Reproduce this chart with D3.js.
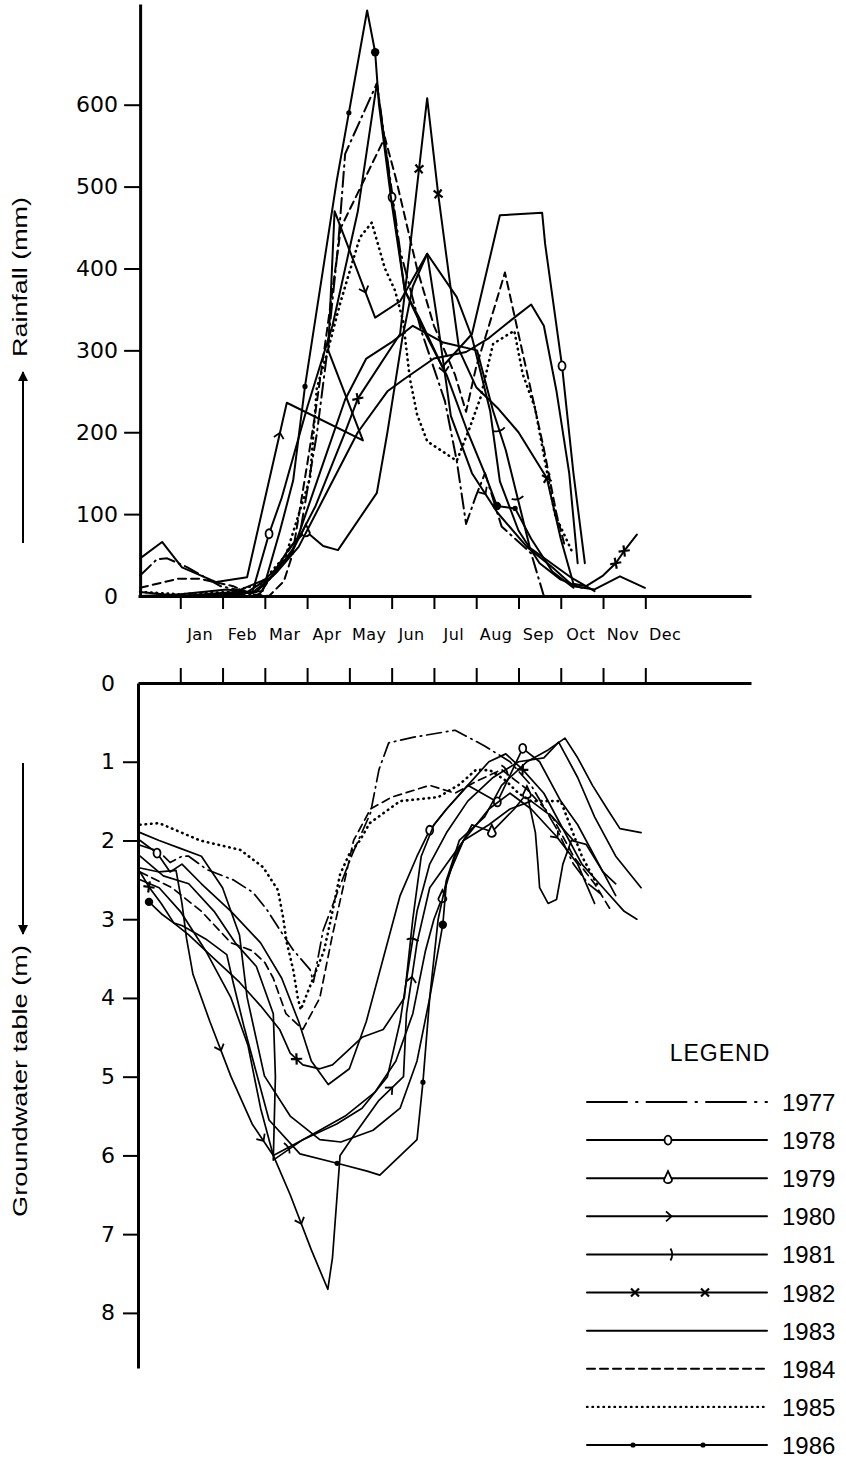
<!DOCTYPE html>
<html>
<head>
<meta charset="utf-8">
<script src="https://cdn.jsdelivr.net/npm/d3@7"></script>
<style>
  body { margin: 0; background: #fff; }
  svg { display: block; }
</style>
</head>
<body>
<div class="chartContainer"></div>
<script>
// categories / ticks
const months = ['Jan','Feb','Mar','Apr','May','Jun','Jul','Aug','Sep','Oct','Nov','Dec'];
const years = ['1977','1978','1979','1980','1981','1982','1983','1984','1985','1986'];
const rainTicks = [0,100,200,300,400,500,600];
const depthTicks = [0,1,2,3,4,5,6,7,8];

// rainfall (mm), [month position, value]
const rain1977 = [[0.05,25],[0.45,45],[0.69,46],[1.17,35],[1.95,12],[2.87,2],[3.83,76],[4.23,198],[4.47,296],[4.73,426],[4.9,540],[5.65,626],[6.2,422],[6.7,324],[7.26,238],[7.54,165],[7.76,88],[8.0,123],[8.21,150],[8.6,85],[9.3,52],[9.6,0]];
const rain1978 = [[0.05,0],[1.0,2],[2.1,8],[2.7,4],[3.1,76],[3.4,120],[4.0,230],[4.6,330],[5.2,470],[5.65,626],[6.01,487],[6.31,373],[6.65,340],[7.2,280],[7.9,320],[8.56,465],[9.56,468],[9.63,430],[10.03,281],[10.3,150],[10.57,40]];
const rain1979 = [[0.05,0],[1.5,0],[2.6,0],[3.1,20],[3.6,60],[3.97,79],[4.38,61],[4.73,56],[5.65,126],[5.9,200],[6.25,314],[6.5,378],[6.84,418],[7.54,365],[7.9,316],[8.33,226],[8.56,140],[9.0,80],[9.5,40],[10.0,20],[10.5,10]];
const rain1980 = [[0.05,46],[0.57,66],[1.04,35],[1.85,17],[2.58,23],[3.52,236],[5.32,190],[4.5,300],[4.65,470],[5.61,340],[6.2,360],[6.84,418],[7.1,330],[7.4,220],[7.9,150],[8.5,102],[9.2,60],[9.8,35],[10.3,12],[10.8,8],[11.4,24],[11.99,10]];
const rain1981 = [[0.05,0],[1.2,0],[2.5,2],[3.2,25],[3.7,60],[4.3,150],[4.9,240],[5.4,290],[6.0,310],[6.5,330],[7.2,310],[8.02,300],[8.4,226],[8.7,178],[9.27,59],[10.26,22],[10.8,6]];
const rain1982 = [[0.05,0],[1.0,0],[2.3,5],[3.0,20],[3.6,50],[4.2,110],[4.9,200],[5.2,241],[6.2,320],[6.84,608],[7.1,491],[7.38,382],[7.6,300],[8.0,255],[8.5,230],[9.0,200],[9.67,144],[10.0,70],[10.3,15],[10.6,12],[11.0,25],[11.3,40],[11.5,55],[11.8,75]];
const rain1983 = [[0.05,5],[1.0,0],[2.0,0],[2.8,5],[3.3,30],[3.8,60],[4.5,130],[5.2,200],[5.9,250],[6.3,265],[7.0,290],[7.76,298],[8.3,315],[8.9,340],[9.3,356],[9.6,330],[9.9,250],[10.2,150],[10.4,40]];
const rain1984 = [[0.05,10],[0.95,21],[1.47,21],[2.25,12],[2.7,2],[3.1,0],[3.45,18],[3.65,50],[4.0,160],[4.19,222],[4.47,324],[4.8,450],[5.84,560],[6.1,510],[6.6,400],[7.0,330],[7.5,270],[7.76,225],[8.0,280],[8.3,330],[8.68,395],[9.0,320],[9.3,250],[9.6,180],[9.9,100],[10.1,60]];
const rain1985 = [[0.05,5],[1.0,2],[2.2,5],[2.9,15],[3.5,50],[4.07,144],[4.23,254],[4.47,296],[4.78,357],[4.94,385],[5.25,438],[5.53,456],[5.84,400],[6.08,373],[6.27,336],[6.43,266],[6.6,222],[6.84,189],[7.54,165],[7.85,206],[8.1,242],[8.4,308],[8.9,324],[9.1,271],[9.39,230],[9.86,100],[10.26,55]];
const rain1986 = [[0.05,0],[1.0,0],[2.2,3],[2.95,6],[3.36,80],[3.67,141],[3.95,256],[4.7,507],[5.42,715],[5.61,664],[5.7,600],[6.0,480],[6.31,373],[6.8,320],[7.3,270],[7.8,200],[8.2,150],[8.49,110],[8.92,107],[9.3,70],[9.8,30],[10.3,10]];

// groundwater table depth (m), [month position, value]
const gw1977 = [[0.05,2.06],[0.5,2.14],[0.76,2.28],[1.04,2.2],[1.2,2.2],[1.63,2.37],[2.25,2.5],[2.72,2.66],[3.05,2.88],[3.36,3.14],[3.67,3.39],[4.07,3.64],[4.15,3.8],[4.38,3.14],[4.71,2.67],[5.08,2.16],[5.5,1.65],[5.7,1.1],[5.93,0.76],[6.5,0.69],[7.5,0.6],[8.2,0.8],[8.8,1.0],[9.3,1.3],[9.9,1.85],[10.3,2.3],[10.65,2.55],[11.0,2.7]];
const gw1978 = [[0.05,2.0],[0.45,2.16],[0.76,2.4],[1.04,2.3],[1.5,2.55],[2.2,2.9],[2.9,3.3],[3.4,3.75],[3.8,4.3],[4.1,4.8],[4.5,5.1],[5.0,4.9],[5.4,4.3],[5.8,3.5],[6.2,2.7],[6.6,2.2],[6.9,1.87],[7.3,1.6],[7.8,1.3],[8.5,1.51],[9.1,0.83],[9.5,1.0],[10.0,1.5],[10.4,1.8],[10.9,2.3],[11.3,2.7]];
const gw1979 = [[0.05,2.2],[0.6,2.45],[1.2,2.55],[1.8,2.9],[2.3,3.3],[2.8,3.6],[3.2,4.2],[3.25,5.0],[3.2,6.06],[3.9,5.8],[4.9,5.5],[5.6,5.2],[6.1,4.8],[6.5,4.2],[6.8,3.4],[7.0,3.0],[7.2,2.72],[7.5,2.2],[7.9,1.8],[8.37,1.89],[8.9,1.6],[9.2,1.4],[9.4,1.9],[9.46,2.3],[9.5,2.6],[9.7,2.8],[9.9,2.75],[10.05,2.3],[10.25,2.0],[10.6,2.05],[11.0,2.4],[11.3,2.55]];
const gw1980 = [[0.05,2.35],[0.5,2.4],[0.9,2.38],[1.04,2.8],[1.15,3.25],[1.3,3.7],[1.7,4.3],[2.2,5.0],[2.7,5.6],[3.2,6.0],[3.6,6.5],[4.1,7.2],[4.49,7.7],[4.6,7.3],[4.78,6.0],[5.1,5.75],[5.7,5.3],[6.28,5.0],[6.35,4.2],[6.6,3.3],[6.9,2.6],[7.3,2.3],[7.7,2.0],[8.3,1.6],[8.8,1.4],[9.3,1.6],[9.9,1.95],[10.4,2.3],[10.8,2.8]];
const gw1981 = [[0.05,2.5],[0.5,2.6],[1.0,2.9],[1.6,3.4],[2.2,4.0],[2.6,4.6],[2.9,5.4],[3.2,6.0],[3.9,5.8],[4.7,5.6],[5.3,5.4],[5.9,5.0],[6.2,4.3],[6.4,3.6],[6.6,2.9],[6.9,2.3],[7.3,1.9],[7.8,1.5],[8.4,1.2],[9.0,1.0],[9.6,0.95],[9.95,0.75],[10.4,1.2],[10.8,1.7],[11.3,2.2],[11.9,2.6]];
const gw1982 = [[0.05,2.4],[0.26,2.59],[0.55,2.8],[0.85,3.05],[1.2,3.2],[1.8,3.5],[2.4,3.8],[2.9,4.1],[3.35,4.4],[3.6,4.7],[3.9,4.85],[4.3,4.9],[4.6,4.85],[4.9,4.7],[5.3,4.5],[5.8,4.4],[6.3,4.0],[6.5,3.0],[6.7,2.2],[7.0,1.8],[7.3,1.6],[7.8,1.3],[8.3,1.0],[8.7,0.9],[9.1,1.1],[9.6,1.4],[10.0,1.8],[10.5,2.3],[11.0,2.6],[11.5,2.9],[11.8,3.0]];
const gw1983 = [[0.05,1.9],[0.5,2.0],[1.0,2.1],[1.5,2.2],[2.0,2.6],[2.4,3.2],[2.58,3.99],[2.99,4.99],[3.6,5.5],[4.3,5.8],[4.8,5.83],[5.56,5.68],[6.2,5.4],[6.6,4.8],[6.9,4.0],[7.1,3.0],[7.3,2.5],[7.6,2.0],[8.2,1.7],[8.6,1.3],[9.2,1.0],[9.7,0.85],[10.1,0.7],[10.4,0.95],[10.75,1.3],[11.1,1.6],[11.4,1.85],[11.9,1.9]];
const gw1984 = [[0.05,2.4],[0.8,2.6],[1.5,2.9],[2.2,3.3],[2.7,3.4],[3.0,3.55],[3.2,3.75],[3.5,4.2],[3.9,4.4],[4.3,4.0],[4.6,3.2],[4.85,2.6],[5.1,2.0],[5.5,1.6],[6.0,1.45],[6.9,1.3],[7.5,1.4],[8.0,1.25],[8.6,1.1],[9.2,1.35],[9.8,1.7],[10.3,2.2],[10.8,2.55],[11.2,2.9]];
const gw1985 = [[0.05,1.8],[0.5,1.78],[1.47,2.0],[2.42,2.12],[2.96,2.34],[3.31,2.63],[3.43,2.97],[3.52,3.3],[3.67,3.64],[3.78,4.0],[3.85,4.15],[4.4,3.4],[4.57,2.98],[4.78,2.43],[5.0,2.17],[5.25,2.0],[5.48,1.78],[6.2,1.5],[7.1,1.45],[7.6,1.29],[8.0,1.1],[8.33,1.11],[8.7,1.24],[9.0,1.4],[9.3,1.5],[10.0,1.5],[10.5,2.2],[10.9,2.6]];
const gw1986 = [[0.26,2.78],[0.55,2.93],[0.85,3.05],[1.04,3.08],[1.6,3.25],[2.1,3.45],[2.25,3.8],[2.5,4.35],[2.84,5.03],[3.1,5.55],[3.83,5.98],[4.71,6.1],[5.42,6.2],[5.72,6.25],[6.6,5.8],[6.74,5.07],[6.9,4.0],[7.21,3.07],[7.3,2.5],[7.7,2.0],[8.3,1.8],[8.8,1.6],[9.3,1.5],[9.8,1.7],[10.3,2.0]];

const rainSeries = [rain1977,rain1978,rain1979,rain1980,rain1981,rain1982,rain1983,rain1984,rain1985,rain1986];
const gwSeries = [gw1977,gw1978,gw1979,gw1980,gw1981,gw1982,gw1983,gw1984,gw1985,gw1986];

// where the year symbols sit along each line (point index, fractions = between points)
const rainMarks = [[],[4,10,18],[5],[4.82,8.75,12.5,14.5],[12.5,13.5],[7,8.7,10,16,21,22],[],[],[],[6,7.4,9,17,18]];
const gwMarks = [[],[1,16,19,20],[16,19,21],[6.5,8.5,10.5,16.5,18.5,26],[7.5,13.5,18.5],[1,9.5,24],[],[],[],[0,11,15,17]];

// line look per year
const yearStyle = {
  '1977': {dash: '15,5,1.5,5', mark: null},
  '1978': {dash: null, mark: 'circle'},
  '1979': {dash: null, mark: 'drop'},
  '1980': {dash: null, mark: 'chevron'},
  '1981': {dash: null, mark: 'tick'},
  '1982': {dash: null, mark: 'cross'},
  '1983': {dash: null, mark: null},
  '1984': {dash: '8,5', mark: null},
  '1985': {dash: '0.5,5', mark: null},
  '1986': {dash: null, mark: 'dot'}
};

const markPath = {
  circle: 'M0,-4.5A3.5,4.5 0 1,1 0,4.5A3.5,4.5 0 1,1 0,-4.5Z',
  drop: 'M0,-7L4,1.5A4,3.5 0 1,1 -4,1.5Z',
  chevron: 'M-4,-5L1.5,0L-4,5',
  tick: 'M-1.5,-6Q2,0 -1.5,6',
  cross: 'M-4,-4L4,4M-4,4L4,-4',
  dot: null
};

const width = 846, height = 1464;
const svg = d3.select('.chartContainer').append('svg')
  .attr('width', width).attr('height', height);

const x = d3.scaleLinear().domain([0, 14.5]).range([138, 751]);
const yRain = d3.scaleLinear().domain([0, 723]).range([596, 4]);
const yDepth = d3.scaleLinear().domain([0, 8.7]).range([683, 1368]);

function drawMark(g, type, px, py, ang, big) {
  if (type === 'dot') {
    g.append('circle').attr('cx', px).attr('cy', py).attr('r', big ? 4.2 : 2.6).attr('fill', '#000');
    return;
  }
  const rot = (type === 'circle' || type === 'drop') ? 0 : ang;
  g.append('path').attr('d', markPath[type])
    .attr('transform', `translate(${px},${py}) rotate(${rot})`)
    .attr('fill', (type === 'circle' || type === 'drop') ? '#fff' : 'none')
    .attr('stroke', '#000').attr('stroke-width', type === 'cross' ? 2.2 : 1.8);
}

function drawSeries(g, series, marks, yScale, lw) {
  const line = d3.line().x(d => x(d[0])).y(d => yScale(d[1])).curve(d3.curveLinear);
  series.forEach((pts, i) => {
    const st = yearStyle[years[i]];
    const p = g.append('path').datum(pts)
      .attr('d', line)
      .attr('fill', 'none').attr('stroke', '#000')
      .attr('stroke-width', st.dash === '0.5,5' ? 2.6 : lw)
      .attr('stroke-linejoin', 'round')
      .attr('stroke-linecap', 'round');
    if (st.dash) p.attr('stroke-dasharray', st.dash);
    if (!st.mark) return;
    marks[i].forEach(m => {
      const k = Math.floor(m), f = m - k;
      const a = pts[k], b = pts[Math.min(k + 1, pts.length - 1)];
      const px = x(a[0] + (b[0] - a[0]) * f), py = yScale(a[1] + (b[1] - a[1]) * f);
      const ang = Math.atan2(yScale(b[1]) - yScale(a[1]), x(b[0]) - x(a[0])) * 180 / Math.PI;
      drawMark(g, st.mark, px, py, ang, st.mark === 'dot' && (m === 9 || m === 0 || m === 17));
    });
  });
}

function styleAxis(g, size) {
  g.attr('font-family', 'DejaVu Sans').attr('font-size', size);
  g.selectAll('.domain').attr('stroke', '#000').attr('stroke-width', 3);
  g.selectAll('.tick line').attr('stroke', '#000').attr('stroke-width', 2);
  g.selectAll('.tick text').attr('fill', '#000');
}

// ---------- rainfall panel ----------
const rainPanel = svg.append('g');
drawSeries(rainPanel, rainSeries, rainMarks, yRain, 2);

const rainY = rainPanel.append('g').attr('transform', `translate(${x(0.05)},0)`)
  .call(d3.axisLeft(yRain).tickValues(rainTicks).tickSize(16).tickSizeOuter(0).tickPadding(6));
styleAxis(rainY, 22);
rainY.selectAll('.tick').filter(d => d === 0).select('line').remove();

const rainX = rainPanel.append('g').attr('transform', `translate(0,${yRain(0)})`)
  .call(d3.axisBottom(x).tickValues(d3.range(1, 13)).tickSize(13).tickSizeOuter(0).tickFormat(''));
styleAxis(rainX, 15);

rainPanel.selectAll('.month').data(months).enter().append('text')
  .attr('class', 'month')
  .attr('x', (d, i) => x(i + 1.47)).attr('y', 640)
  .attr('text-anchor', 'middle')
  .attr('font-family', 'DejaVu Sans').attr('font-size', 16)
  .attr('letter-spacing', 0.4)
  .text(d => d);

// ---------- groundwater panel ----------
const gwPanel = svg.append('g');
drawSeries(gwPanel, gwSeries, gwMarks, yDepth, 1.7);

const gwY = gwPanel.append('g').attr('transform', `translate(${x(0)},0)`)
  .call(d3.axisLeft(yDepth).tickValues(depthTicks).tickSize(15).tickSizeOuter(0).tickPadding(8));
styleAxis(gwY, 22);
gwY.selectAll('.tick').filter(d => d === 0).select('line').remove();

const gwX = gwPanel.append('g').attr('transform', `translate(0,${yDepth(0)})`)
  .call(d3.axisTop(x).tickValues(d3.range(1, 13)).tickSize(15).tickSizeOuter(0).tickFormat(''));
styleAxis(gwX, 15);

// ---------- axis titles with arrows ----------
svg.append('defs').append('marker')
  .attr('id', 'head').attr('viewBox', '0 0 10 10')
  .attr('refX', 9).attr('refY', 5)
  .attr('markerWidth', 5).attr('markerHeight', 6)
  .attr('orient', 'auto')
  .append('path').attr('d', 'M0,0L10,5L0,10Z').attr('fill', '#000');

svg.append('text')
  .attr('transform', 'translate(27,277) rotate(-90)')
  .attr('text-anchor', 'middle')
  .attr('font-family', 'Liberation Sans, Arial').attr('font-size', 21)
  .attr('textLength', 160).attr('lengthAdjust', 'spacingAndGlyphs')
  .text('Rainfall (mm)');
svg.append('line').attr('x1', 23).attr('x2', 23).attr('y1', 543).attr('y2', 372)
  .attr('stroke', '#000').attr('stroke-width', 2).attr('marker-end', 'url(#head)');

svg.append('text')
  .attr('transform', 'translate(27,1081) rotate(-90)')
  .attr('text-anchor', 'middle')
  .attr('font-family', 'Liberation Sans, Arial').attr('font-size', 21)
  .attr('textLength', 272).attr('lengthAdjust', 'spacingAndGlyphs')
  .text('Groundwater table (m)');
svg.append('line').attr('x1', 23).attr('x2', 23).attr('y1', 763).attr('y2', 934)
  .attr('stroke', '#000').attr('stroke-width', 2).attr('marker-end', 'url(#head)');

// ---------- legend ----------
const leg = svg.append('g');
const rowY = d3.scaleLinear().domain([0, 9]).range([1102, 1445]);
leg.append('text').attr('x', 720).attr('y', 1061)
  .attr('text-anchor', 'middle')
  .attr('font-family', 'Liberation Sans, Arial').attr('font-size', 23)
  .attr('letter-spacing', 1)
  .text('LEGEND');

const legendMarks = {
  '1978': [668], '1979': [668], '1980': [670], '1981': [672],
  '1982': [635, 705], '1986': [633, 703]
};
years.forEach((yr, i) => {
  const st = yearStyle[yr];
  const yy = rowY(i);
  const ln = leg.append('line').attr('x1', 587).attr('x2', 767).attr('y1', yy).attr('y2', yy)
    .attr('stroke', '#000').attr('stroke-width', yr === '1985' ? 2.4 : 2)
    .attr('stroke-linecap', 'round');
  if (yr === '1977') ln.attr('stroke-dasharray', '40,9,1.5,9');
  else if (st.dash) ln.attr('stroke-dasharray', st.dash);
  (legendMarks[yr] || []).forEach(mx => drawMark(leg, st.mark, mx, yy, 0, false));
  leg.append('text').attr('x', 782).attr('y', yy + 9)
    .attr('font-family', 'Liberation Sans, Arial').attr('font-size', 24)
    .text(yr);
});
</script>
</body>
</html>
